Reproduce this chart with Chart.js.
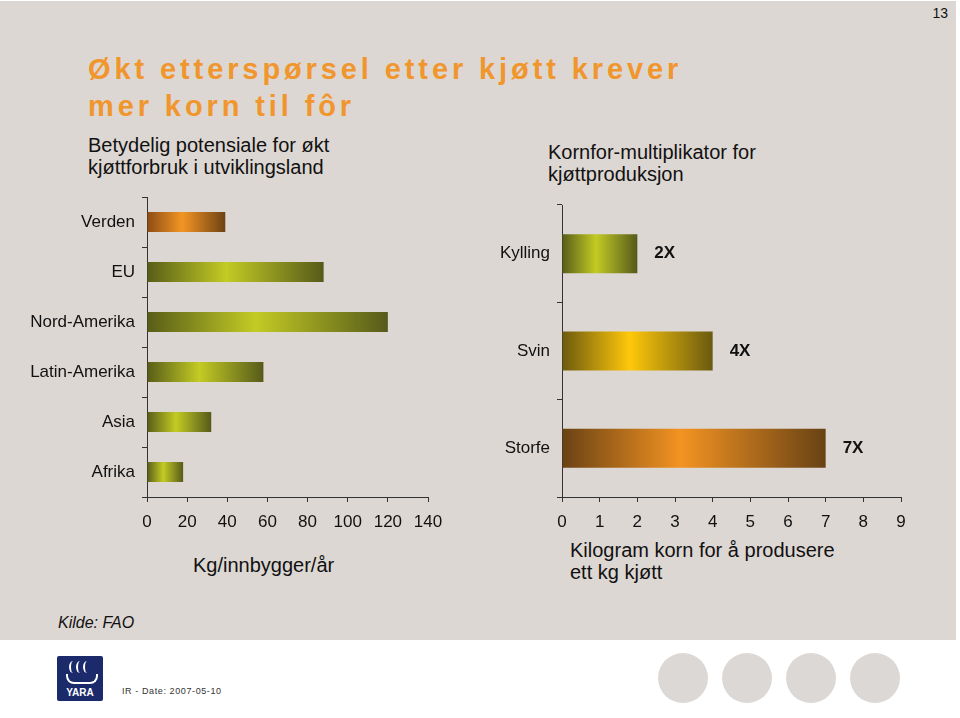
<!DOCTYPE html>
<html>
<head>
<meta charset="utf-8">
<script src="https://cdn.jsdelivr.net/npm/chart.js@4"></script>
<style>
  body { margin:0; width:960px; height:718px; background:#fff; position:relative; overflow:hidden;
         font-family:"Liberation Sans", Arial, sans-serif; color:#111; }
  .slide { position:absolute; left:0; top:1px; width:956px; height:639px; background:#ddd7d3; }
  .abs { position:absolute; white-space:nowrap; }
  .title { left:88px; top:51px; font-size:29px; font-weight:bold; color:#f0962c; letter-spacing:3.9px; line-height:37px; }
  .sub { font-size:20px; line-height:22px; }
  .axis-title { font-size:20px; line-height:22px; }
  .page { right:12px; top:5px; font-size:14px; }
  .src { left:58px; top:614px; font-size:16px; font-style:italic; }
  .dot { position:absolute; top:653px; width:50px; height:50px; border-radius:50%; background:#dcd8d5; }
  .logo { position:absolute; left:57px; top:656px; width:46px; height:45px; background:#1b2a6b; border-radius:2px;
          color:#fff; font-weight:bold; font-size:10px; text-align:center; }
  .logo .ship { position:absolute; left:9px; top:18px; width:28px; height:8px; border:2px solid #fff; border-top:none; border-radius:0 0 8px 8px; }
  .logo .sail { position:absolute; top:5px; width:6px; height:12px; border-left:2px solid #fff; border-radius:50%; }
  .logo .name { position:absolute; left:0; right:0; top:31px; }
  .date { left:122px; top:686px; font-size:9px; letter-spacing:0.6px; color:#333; }
  canvas { position:absolute; }
</style>
</head>
<body>
<div class="slide"></div>
<div class="abs page">13</div>
<div class="abs title">Økt etterspørsel etter kjøtt krever<br>mer korn til fôr</div>
<div class="abs sub" style="left:88px;top:134px;">Betydelig potensiale for økt<br>kjøttforbruk i utviklingsland</div>
<div class="abs sub" style="left:548px;top:141px;">Kornfor-multiplikator for<br>kjøttproduksjon</div>
<div class="abs axis-title" style="left:193px;top:554px;">Kg/innbygger/år</div>
<div class="abs axis-title" style="left:570px;top:539px;">Kilogram korn for å produsere<br>ett kg kjøtt</div>
<div class="abs src">Kilde: FAO</div>
<div class="logo">
  <div class="sail" style="left:12px"></div><div class="sail" style="left:19px"></div><div class="sail" style="left:26px"></div>
  <div class="ship"></div>
  <div class="name">YARA</div>
</div>
<div class="abs date">IR - Date: 2007-05-10</div>
<div class="dot" style="left:658px"></div>
<div class="dot" style="left:722px"></div>
<div class="dot" style="left:786px"></div>
<div class="dot" style="left:850px"></div>

<canvas id="left-chart" width="450" height="360" style="left:0;top:190px;"></canvas>
<canvas id="right-chart" width="470" height="360" style="left:450px;top:190px;"></canvas>

<script>
// ---- data ----
const regions        = ['Verden', 'EU', 'Nord-Amerika', 'Latin-Amerika', 'Asia', 'Afrika'];
const meatPerCapita  = [39, 88, 120, 58, 32, 18];          // kg per innbygger per år
const animals        = ['Kylling', 'Svin', 'Storfe'];
const grainPerKgMeat = [2, 4, 7];                          // kg korn per kg kjøtt
const multiplierText = ['2X', '4X', '7X'];
const leftTickMax  = 140, leftTickStep  = 20;
const rightTickMax = 9,   rightTickStep = 1;

// ---- styles ----
const shades = {
  orange: ['#8c4c14', '#f39524', '#6e4212'],
  green:  ['#575c18', '#c3cb24', '#565a1a'],
  gold:   ['#6c5a0e', '#ffc80a', '#6a5a10'],
  brown:  ['#6a4214', '#f39322', '#684214'],
};
const leftShades  = ['orange', 'green', 'green', 'green', 'green', 'green'];
const rightShades = ['green', 'gold', 'brown'];
const ink  = '#111';
const axisCol = '#333';
const FONT = '"Liberation Sans", Arial, sans-serif';

// horizontal gradient along each bar: dark - bright - dark
function barGradient(names) {
  return (c) => {
    const { chart, dataIndex } = c;
    const s = shades[names[dataIndex]];
    if (!chart.chartArea) return s[1];
    const x = chart.scales.x;
    const x0 = x.getPixelForValue(0);
    const x1 = x.getPixelForValue(chart.data.datasets[0].data[dataIndex]);
    const g = chart.ctx.createLinearGradient(x0, 0, x1, 0);
    g.addColorStop(0, s[0]);
    g.addColorStop(0.45, s[1]);
    g.addColorStop(1, s[2]);
    return g;
  };
}

const scales = (max, step, yWidth) => ({
  x: {
    min: 0, max,
    ticks: { stepSize: step, color: ink, font: { family: FONT, size: 17 }, padding: 10 },
    grid:  { drawOnChartArea: false, tickLength: 5, color: axisCol },
    border:{ color: axisCol },
    afterFit(s) { s.height = 53; s.paddingLeft = 0; s.paddingRight = 0; },
  },
  y: {
    ticks: { color: ink, font: { family: FONT, size: 17 }, padding: 7 },
    grid:  { drawOnChartArea: false, tickLength: 5, color: axisCol, offset: true },
    border:{ color: axisCol },
    afterFit(s) { s.width = yWidth; s.paddingTop = 0; s.paddingBottom = 0; },
  },
});

const baseOpts = {
  indexAxis: 'y',
  responsive: false,
  animation: false,
  plugins: { legend: { display: false }, tooltip: { enabled: false } },
};

new Chart(document.getElementById('left-chart'), {
  type: 'bar',
  data: {
    labels: regions,
    datasets: [{
      data: meatPerCapita,
      backgroundColor: barGradient(leftShades),
      barPercentage: 0.4,
      categoryPercentage: 1,
    }],
  },
  options: {
    ...baseOpts,
    layout: { padding: { top: 7, right: 22, left: 0, bottom: 0 } },
    scales: scales(leftTickMax, leftTickStep, 147),
  },
});

const multiplierLabels = {
  id: 'multiplierLabels',
  afterDatasetsDraw(chart) {
    const { ctx } = chart;
    ctx.save();
    ctx.font = 'bold 17px ' + FONT;
    ctx.fillStyle = ink;
    ctx.textBaseline = 'middle';
    chart.getDatasetMeta(0).data.forEach((bar, i) => {
      ctx.fillText(multiplierText[i], bar.x + 17, bar.y);
    });
    ctx.restore();
  },
};

new Chart(document.getElementById('right-chart'), {
  type: 'bar',
  data: {
    labels: animals,
    datasets: [{
      data: grainPerKgMeat,
      backgroundColor: barGradient(rightShades),
      barPercentage: 0.4,
      categoryPercentage: 1,
    }],
  },
  options: {
    ...baseOpts,
    layout: { padding: { top: 15, right: 19, left: 0, bottom: 0 } },
    scales: scales(rightTickMax, rightTickStep, 112),
  },
  plugins: [multiplierLabels],
});
</script>
</body>
</html>
